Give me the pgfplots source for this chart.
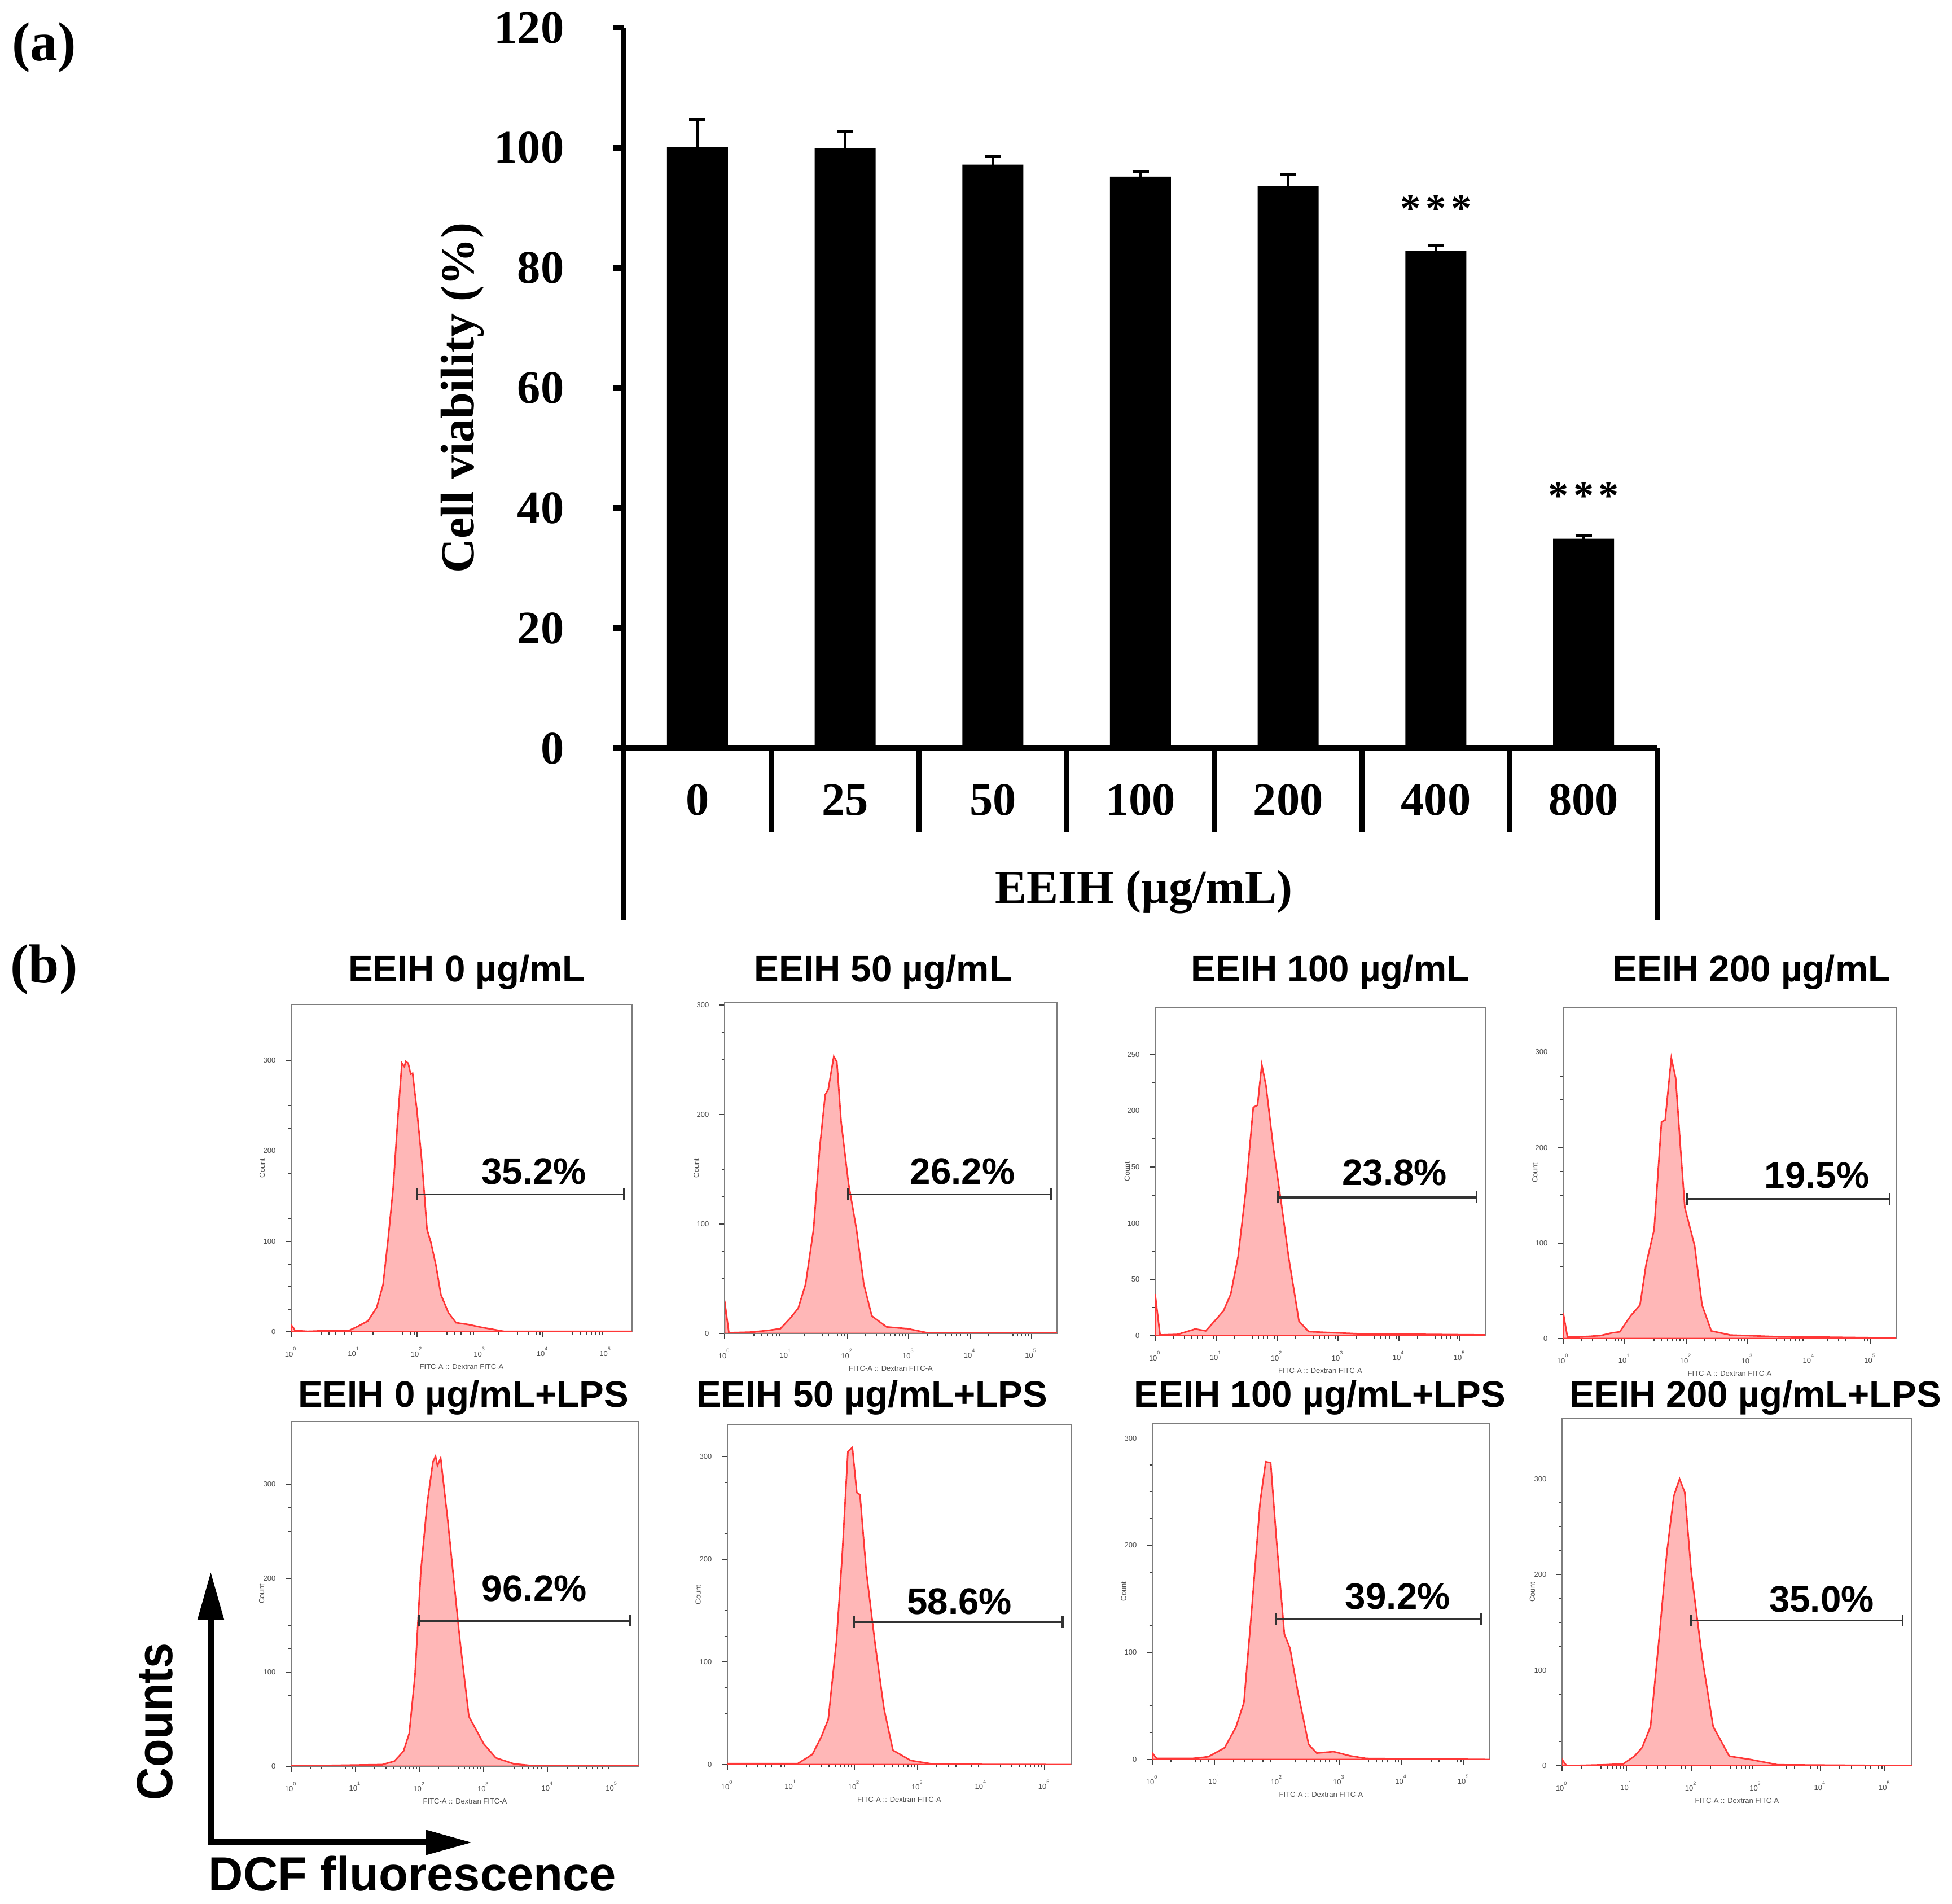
\documentclass[border=0pt]{standalone}
\usepackage{pgfplots}
\pgfplotsset{compat=1.18}
\usepackage{pgfplotstable}
\usetikzlibrary{arrows.meta}
\usepackage{fontspec}
\setmainfont{Liberation Serif}
\newfontfamily\arial{Liberation Sans}

\definecolor{histfill}{RGB}{255,183,183}
\definecolor{histline}{RGB}{255,55,55}
\definecolor{framegray}{RGB}{125,125,125}

\pgfplotstableread{
l c
0 7.5
0.03 5
0.06 1.4
0.26 0.5
0.66 1.4
0.92 1.4
1.06 6
1.22 12
1.36 27
1.46 52
1.54 102
1.62 158
1.70 241
1.76 297
1.80 293
1.82 299
1.86 297
1.90 285
1.93 286
2.00 244
2.08 186
2.16 113
2.22 99
2.30 74
2.38 41
2.50 21
2.62 10
2.82 8
3.02 5
3.22 2.5
3.38 0.5
5.45 0.5
}\histA
\pgfplotstableread{
l c
0 30
0.07 0.7
0.41 1.2
0.70 2.7
0.91 4.4
1.07 14
1.20 23
1.32 45
1.45 95
1.55 169
1.64 218
1.69 223
1.78 253
1.83 248
1.90 193
2.02 137
2.15 95
2.27 45
2.40 16
2.64 6
2.98 4.4
3.30 0.7
5.45 0.5
}\histB
\pgfplotstableread{
l c
0 37
0.08 0.7
0.37 1.2
0.66 6
0.83 4.3
0.95 11.5
1.12 22
1.24 37
1.36 70
1.49 130
1.61 203
1.68 205
1.75 241
1.82 222
1.94 167
2.07 118
2.19 70
2.36 13
2.52 3.6
3.35 1.7
5.45 0.7
}\histC
\pgfplotstableread{
l c
0 27
0.07 1.4
0.34 2
0.60 3
0.80 6
0.92 7
1.10 24
1.25 35
1.35 78
1.48 114
1.60 227
1.66 229
1.76 294
1.83 273
1.91 199
1.98 137
2.14 97
2.26 35
2.41 8
2.72 3.7
3.47 2
5.45 0.6
}\histD
\pgfplotstableread{
l c
0 0.3
1.42 1.8
1.61 5.5
1.75 16
1.84 35
1.93 97
2.02 207
2.12 280
2.21 324
2.25 330
2.28 320
2.33 328
2.44 262
2.63 134
2.77 53
3.00 24
3.19 9
3.47 2.6
3.75 0.7
5.45 0.3
}\histE
\pgfplotstableread{
l c
0 1
1.11 1
1.34 10
1.48 27
1.59 44
1.72 121
1.81 204
1.90 305
1.97 309
2.04 265
2.09 263
2.19 188
2.33 117
2.47 54
2.61 14
2.89 4
3.26 0.3
5.45 0
}\histF
\pgfplotstableread{
l c
0 6
0.07 1
0.64 1
0.90 2.6
1.16 11
1.34 30
1.47 53
1.60 143
1.73 240
1.82 278
1.90 277
1.99 207
2.12 117
2.21 104
2.34 62
2.51 14
2.64 6
2.91 7.4
3.17 3.5
3.43 1
5.45 0
}\histG
\pgfplotstableread{
l c
0 6.5
0.07 0
0.66 1
0.95 2
1.12 10
1.24 19
1.37 41
1.50 131
1.62 221
1.73 282
1.82 300
1.90 286
2.00 203
2.17 113
2.34 41
2.59 10
2.92 6.5
3.34 1
5.45 0
}\histH

\pgfplotsset{
  histax/.style={
    scale only axis, anchor=south west,
    xmin=1, xmax=262144, ymin=0,
    axis line style={framegray, line width=0.5pt},
    tick style={black!75, line width=0.3pt},
    tick align=outside, xtick pos=bottom, ytick pos=left,
    major tick length=2pt, minor tick length=1.1pt,
    xtick={1,10,100,1000,10000,100000},
    xticklabels={10\textsuperscript{0},10\textsuperscript{1},10\textsuperscript{2},10\textsuperscript{3},10\textsuperscript{4},10\textsuperscript{5}},
    ytick={0,100,200,300}, minor y tick num=3,
    tick label style={font=\arial\fontsize{2.6}{3}\selectfont, text=black!70},
    yticklabel style={/pgf/number format/assume math mode=true},
    xlabel={FITC-A :: Dextran FITC-A}, ylabel={Count},
    label style={font=\arial\fontsize{2.6}{3}\selectfont, text=black!70},
    xlabel style={at={(axis description cs:0.5,0)}, anchor=center, yshift=-12.4pt},
    ylabel style={at={(axis description cs:-0.085,0.5)}, anchor=center},
  },
  histplot/.style={fill=histfill, draw=histline, line width=0.55pt},
  gate/.style={black!80, line width=0.7pt, {Bar[width=4.2pt]}-{Bar[width=4.2pt]}},
}
\tikzset{pct/.style={font=\arial\bfseries\fontsize{13.1}{15}\selectfont}}

\begin{document}
\begin{tikzpicture}
\useasboundingbox (0,0) rectangle (691.8pt,674.8pt);

% ---------- panel (a) ----------
\node[font=\bfseries\fontsize{19.5}{22}\selectfont] at (15.6pt,658pt) {(a)};
\node[font=\bfseries\fontsize{19.5}{22}\selectfont] at (15.6pt,331.2pt) {(b)};

\begin{axis}[
  at={(221pt,409.6pt)}, anchor=south west, scale only axis,
  width=366.4pt, height=255.4pt,
  xmin=-0.5, xmax=6.5, ymin=0, ymax=120,
  axis x line*=bottom, axis y line*=left,
  axis line style={line width=2pt, -},
  ytick={0,20,...,120},
  ytick style={line width=2pt, black},
  tick align=outside, major tick length=3.6pt,
  xtick={0,...,6}, xticklabels={0,25,50,100,200,400,800},
  xtick style={draw=none},
  tick label style={font=\bfseries\fontsize{16.5}{18}\selectfont},
  yticklabel style={/pgf/number format/assume math mode=true, xshift=-14pt},
  xticklabel style={anchor=base, yshift=-20.2pt},
  clip=false,
]
\addplot[ybar, bar width=21.6pt, fill=black, draw=none,
  error bars/.cd, y dir=plus, y explicit,
  error bar style={line width=0.95pt, black},
  error mark options={rotate=90, mark size=2.9pt, line width=1pt, black}]
  coordinates {
  (0,100.1) +- (0,4.6)
  (1,99.9) +- (0,2.8)
  (2,97.2) +- (0,1.3)
  (3,95.2) +- (0,0.8)
  (4,93.6) +- (0,1.9)
  (5,82.8) +- (0,0.9)
  (6,34.9) +- (0,0.5)
  };
\node[font=\bfseries\fontsize{14.5}{18}\selectfont] at (axis cs:5,89.9) {*\kern0.12em*\kern0.12em*};
\node[font=\bfseries\fontsize{14.5}{18}\selectfont] at (axis cs:6,42.0) {*\kern0.12em*\kern0.12em*};
\draw[line width=2pt] (axis cs:0.5,0) -- ([yshift=-29.6pt]axis cs:0.5,0);
\draw[line width=2pt] (axis cs:1.5,0) -- ([yshift=-29.6pt]axis cs:1.5,0);
\draw[line width=2pt] (axis cs:2.5,0) -- ([yshift=-29.6pt]axis cs:2.5,0);
\draw[line width=2pt] (axis cs:3.5,0) -- ([yshift=-29.6pt]axis cs:3.5,0);
\draw[line width=2pt] (axis cs:4.5,0) -- ([yshift=-29.6pt]axis cs:4.5,0);
\draw[line width=2pt] (axis cs:5.5,0) -- ([yshift=-29.6pt]axis cs:5.5,0);
\draw[line width=2pt] (axis cs:-0.5,0) -- ([yshift=-60.8pt]axis cs:-0.5,0);
\draw[line width=2pt] (axis cs:6.5,0) -- ([yshift=-60.8pt]axis cs:6.5,0);
\end{axis}
\node[rotate=90, font=\bfseries\fontsize{16.8}{18}\selectfont] at (163.8pt,533.8pt) {Cell viability (\%)};
\node[font=\bfseries\fontsize{16.8}{18}\selectfont] at (405.4pt,358.6pt) {EEIH (µg/mL)};

% ---------- panel (b) titles ----------
\begin{scope}[every node/.style={font=\arial\bfseries\fontsize{13.1}{15}\selectfont, anchor=base}]
\node at (165.4pt,326.8pt) {EEIH 0 µg/mL};
\node at (313pt,326.8pt) {EEIH 50 µg/mL};
\node at (471.4pt,326.8pt) {EEIH 100 µg/mL};
\node at (620.8pt,326.8pt) {EEIH 200 µg/mL};
\node at (164.2pt,176pt) {EEIH 0 µg/mL+LPS};
\node at (309pt,176pt) {EEIH 50 µg/mL+LPS};
\node at (467.8pt,176pt) {EEIH 100 µg/mL+LPS};
\node at (622.2pt,176pt) {EEIH 200 µg/mL+LPS};
\end{scope}

% ---------- histograms row 1 ----------
\begin{semilogxaxis}[histax, at={(103.2pt,202.8pt)}, width=120.8pt, height=116pt, ymax=362]
\addplot[histplot] table[x expr=10^\thisrow{l}, y=c] {\histA} \closedcycle;
\addplot[gate] coordinates {(95.5,152) (204174,152)};
\node[pct] at (axis cs:7244,177) {35.2\%};
\end{semilogxaxis}

\begin{semilogxaxis}[histax, at={(256.8pt,202.2pt)}, width=117.8pt, height=117.2pt, ymax=302]
\addplot[histplot] table[x expr=10^\thisrow{l}, y=c] {\histB} \closedcycle;
\addplot[gate] coordinates {(100,127) (218776,127)};
\node[pct] at (axis cs:7586,148) {26.2\%};
\end{semilogxaxis}

\begin{semilogxaxis}[histax, at={(409.4pt,201.4pt)}, width=117pt, height=116.4pt, ymax=292,
  ytick={0,50,100,150,200,250}, minor y tick num=1]
\addplot[histplot] table[x expr=10^\thisrow{l}, y=c] {\histC} \closedcycle;
\addplot[gate] coordinates {(100,123) (194984,123)};
\node[pct] at (axis cs:8511,145) {23.8\%};
\end{semilogxaxis}

\begin{semilogxaxis}[histax, at={(554pt,200.4pt)}, width=118pt, height=117.4pt, ymax=347]
\addplot[histplot] table[x expr=10^\thisrow{l}, y=c] {\histD} \closedcycle;
\addplot[gate] coordinates {(100,146) (213796,146)};
\node[pct] at (axis cs:13490,171) {19.5\%};
\end{semilogxaxis}

% ---------- histograms row 2 ----------
\begin{semilogxaxis}[histax, at={(103.2pt,48.8pt)}, width=123.2pt, height=122.2pt, ymax=367]
\addplot[histplot] table[x expr=10^\thisrow{l}, y=c] {\histE} \closedcycle;
\addplot[gate] coordinates {(95.5,155) (199526,155)};
\node[pct] at (axis cs:6166,189) {96.2\%};
\end{semilogxaxis}

\begin{semilogxaxis}[histax, at={(257.8pt,49.4pt)}, width=121.8pt, height=120.4pt, ymax=331]
\addplot[histplot] table[x expr=10^\thisrow{l}, y=c] {\histF} \closedcycle;
\addplot[gate] coordinates {(95.5,139) (199526,139)};
\node[pct] at (axis cs:4571,159) {58.6\%};
\end{semilogxaxis}

\begin{semilogxaxis}[histax, at={(408.4pt,51.2pt)}, width=119.6pt, height=119.2pt, ymax=314]
\addplot[histplot] table[x expr=10^\thisrow{l}, y=c] {\histG} \closedcycle;
\addplot[gate] coordinates {(93.3,131) (199526,131)};
\node[pct] at (axis cs:8710,152) {39.2\%};
\end{semilogxaxis}

\begin{semilogxaxis}[histax, at={(553.6pt,49pt)}, width=124pt, height=123pt, ymax=363]
\addplot[histplot] table[x expr=10^\thisrow{l}, y=c] {\histH} \closedcycle;
\addplot[gate] coordinates {(95.5,152) (194984,152)};
\node[pct] at (axis cs:10471,174) {35.0\%};
\end{semilogxaxis}

% ---------- axes legend arrows ----------
\draw[line width=2.2pt, -{Triangle[length=17pt,width=8.8pt]}] (74.7pt,20.7pt) -- (74.7pt,117.8pt);
\draw[line width=2.2pt, -{Triangle[length=16.4pt,width=8.3pt]}] (73.6pt,21.8pt) -- (167.4pt,21.8pt);
\node[rotate=90, font=\arial\bfseries\fontsize{18}{20}\selectfont] at (54.9pt,64.6pt) {\scalebox{0.9}[1]{Counts}};
\node[anchor=base, font=\arial\bfseries\fontsize{17}{20}\selectfont] at (146.2pt,4.6pt) {DCF fluorescence};
\end{tikzpicture}
\end{document}
